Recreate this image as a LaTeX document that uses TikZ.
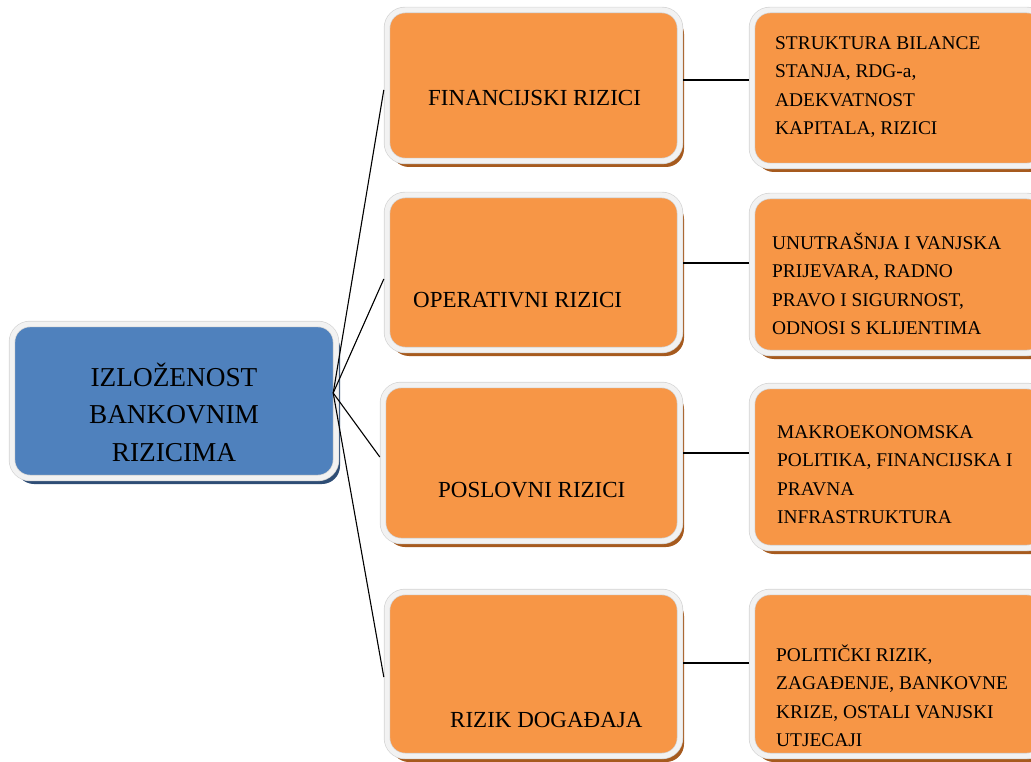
\documentclass[tikz,border=0pt]{standalone}
\usepackage{fontspec}
\setmainfont{Liberation Serif}
\definecolor{boxorange}{HTML}{F79646}
\definecolor{boxblue}{HTML}{4F81BD}
\definecolor{shadeorange}{HTML}{A65A1E}
\definecolor{shadeblue}{HTML}{2E4D75}
\definecolor{bandfill}{HTML}{F2F2F2}
\definecolor{bandline}{HTML}{D4D4D4}
\begin{document}
\begin{tikzpicture}[x=1pt,y=-1pt,
  band/.style={draw=bandline, double=bandfill, double distance=5pt, line width=0.7pt,
    rounded corners=18pt, inner sep=0pt, outer sep=3.2pt, shape=rectangle},
  obox/.style={band, fill=boxorange,
    preaction={fill=shadeorange, draw=none, transform canvas={xshift=4pt,yshift=-6pt}}},
  bbox/.style={band, fill=boxblue,
    preaction={fill=shadeblue, draw=none, transform canvas={xshift=4pt,yshift=-6pt}}},
  conn/.style={draw=black, line width=1.1pt},
  midtext/.style={font=\fontsize{23}{27}\selectfont, inner sep=0pt, anchor=base west},
  sidetext/.style={font=\fontsize{19.4}{28.5}\selectfont, inner sep=0pt, anchor=base west},
  lefttext/.style={font=\fontsize{27.3}{37.5}\selectfont, inner sep=0pt, anchor=base},
]
\useasboundingbox (0,0) rectangle (1031,762);
\clip (0,0) rectangle (1031,762);

% left box
\node[bbox, minimum width=324pt, minimum height=154pt] (L) at (174,401) {};
\node[lefttext] (lt) at (174,386) {\begin{tabular}[t]{@{}c@{}}IZLOŽENOST\\ BANKOVNIM\\ RIZICIMA\end{tabular}};

% middle boxes
\node[obox, minimum width=293pt, minimum height=151pt] (b1) at (533.5,85.5) {};
\node[obox, minimum width=293pt, minimum height=155pt] (b2) at (533.5,272.5) {};
\node[obox, minimum width=297pt, minimum height=156pt] (b3) at (531.5,463) {};
\node[obox, minimum width=293pt, minimum height=164pt] (b4) at (533.5,674) {};

\node[midtext] (t1) at (428,105.6) {FINANCIJSKI RIZICI};
\node[midtext] (t2) at (413,307.6) {OPERATIVNI RIZICI};
\node[midtext] (t3) at (438,497.6) {POSLOVNI RIZICI};
\node[midtext] (t4) at (450,727.6) {RIZIK DOGAĐAJA};

% right boxes
\node[obox, minimum width=293pt, minimum height=156pt] (r1) at (898.5,88) {};
\node[obox, minimum width=293pt, minimum height=157pt] (r2) at (898.5,274.5) {};
\node[obox, minimum width=293pt, minimum height=162pt] (r3) at (898.5,467) {};
\node[obox, minimum width=293pt, minimum height=164pt] (r4) at (898.5,674) {};

\node[sidetext] (s1) at (775,49.4) {\begin{tabular}[t]{@{}l@{}}STRUKTURA BILANCE\\ STANJA, RDG-a,\\ ADEKVATNOST\\ KAPITALA, RIZICI\end{tabular}};
\node[sidetext] (s2) at (772,249.4) {\begin{tabular}[t]{@{}l@{}}UNUTRAŠNJA I VANJSKA\\ PRIJEVARA, RADNO\\ PRAVO I SIGURNOST,\\ ODNOSI S KLIJENTIMA\end{tabular}};
\node[sidetext] (s3) at (777,438.4) {\begin{tabular}[t]{@{}l@{}}MAKROEKONOMSKA\\ POLITIKA, FINANCIJSKA I\\ PRAVNA\\ INFRASTRUKTURA\end{tabular}};
\node[sidetext] (s4) at (776,661.4) {\begin{tabular}[t]{@{}l@{}}POLITIČKI RIZIK,\\ ZAGAĐENJE, BANKOVNE\\ KRIZE, OSTALI VANJSKI\\ UTJECAJI\end{tabular}};

% connectors
\coordinate (J) at ([xshift=-6pt,yshift=8pt]L.east);
\draw[conn] (J) -- ([yshift=-4.5pt]b1.west);
\draw[conn] (J) -- ([yshift=-6.5pt]b2.west);
\draw[conn] (J) -- ([yshift=6pt]b3.west);
\draw[conn] (J) -- ([yshift=-3pt]b4.west);

\draw[conn] ([yshift=5.5pt]b1.east) -- ([yshift=8pt]r1.west);
\draw[conn] ([yshift=9.5pt]b2.east) -- ([yshift=11.5pt]r2.west);
\draw[conn] ([yshift=10pt]b3.east) -- ([yshift=14pt]r3.west);
\draw[conn] ([yshift=11pt]b4.east) -- ([yshift=11pt]r4.west);
\end{tikzpicture}
\end{document}
